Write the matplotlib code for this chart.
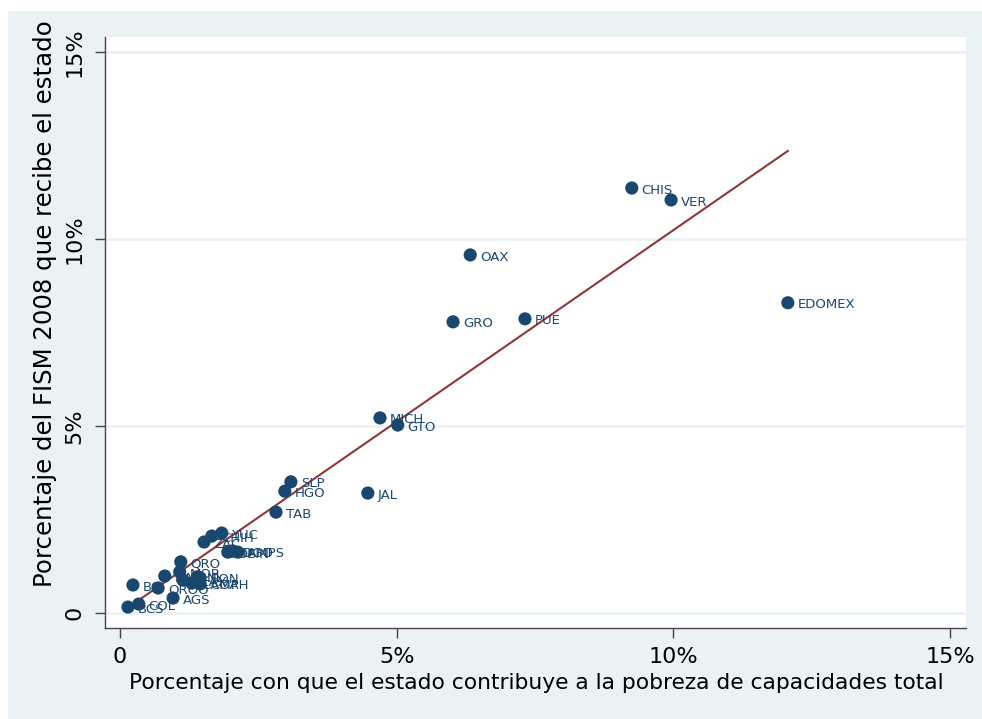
import matplotlib
matplotlib.use("Agg")
import matplotlib.pyplot as plt
from matplotlib.patches import Rectangle
import numpy as np

######################################
### DATA                           ###
######################################

# state abbreviations
estados = ["CHIS", "VER", "OAX", "EDOMEX", "GRO", "PUE", "MICH", "GTO",
           "JAL", "SLP", "HGO", "TAB", "ZAC", "CHIH", "YUC", "DF", "DGO",
           "SIN", "TAMPS", "QRO", "MOR", "SON", "NL", "COAH", "QROO", "BC",
           "COL", "BCS", "AGS", "NAY", "TLAX", "CAMP"]

# share of total capacity poverty (%)
pobreza = [9.25, 9.96, 6.33, 12.07, 6.02, 7.32, 4.70, 5.02,
           4.48, 3.09, 2.98, 2.82, 1.52, 1.66, 1.84, 1.95, 2.04,
           2.13, 2.00, 1.10, 1.08, 1.45, 1.40, 1.45, 0.69, 0.235,
           0.34, 0.145, 0.96, 0.81, 1.14, 1.30]

# share of FISM 2008 received (%)
fism = [11.37, 11.05, 9.58, 8.30, 7.79, 7.87, 5.22, 5.03,
        3.21, 3.51, 3.26, 2.70, 1.90, 2.06, 2.14, 1.63, 1.66,
        1.63, 1.65, 1.37, 1.10, 0.94, 0.97, 0.78, 0.67, 0.75,
        0.24, 0.16, 0.40, 0.99, 0.88, 0.80]

ticks = [0, 5, 10, 15]
tick_labels = ["0", "5%", "10%", "15%"]

######################################
### PLOT                           ###
######################################

navy = "#1a476f"
maroon = "#90353b"
bg = "#eaf2f3"

fig = plt.figure(figsize=(9.82, 7.19), dpi=100)
fig.patch.set_facecolor("white")
fig.patches.append(Rectangle((8 / 982, 0), 1, 1 - 11 / 719, transform=fig.transFigure,
                             facecolor=bg, edgecolor="none", zorder=-10))

ax = fig.add_axes([105 / 982, (719 - 628) / 719, (966 - 105) / 982, (628 - 37) / 719])
ax.set_facecolor("white")

x = np.array(pobreza)
y = np.array(fism)

# linear fit across the observed range
b, a = np.polyfit(x, y, 1)
xs = np.array([x.min(), x.max()])
ax.plot(xs, a + b * xs, color=maroon, lw=1.5, zorder=3)

ax.scatter(x, y, s=90, color=navy, edgecolors="none", zorder=4)
for lab, xi, yi in zip(estados, pobreza, fism):
    ax.annotate(lab, (xi, yi), xytext=(7, -1.5), textcoords="offset points",
                fontsize=9.5, color=navy, va="center", ha="left", zorder=5)

ax.set_xlim(-0.27, 15.29)
ax.set_ylim(-0.40, 15.41)

for t in ticks:
    ax.axhline(t, color=bg, lw=2, zorder=1)

ax.set_xticks(ticks)
ax.set_xticklabels(tick_labels, fontsize=16)
ax.set_yticks(ticks)
ax.set_yticklabels(tick_labels, fontsize=16, rotation=90, va="center")
ax.tick_params(axis="both", direction="out", length=7, width=1, color="#444444")
ax.tick_params(axis="x", pad=7)
ax.tick_params(axis="y", pad=8)

for s in ["top", "right"]:
    ax.spines[s].set_visible(False)
for s in ["left", "bottom"]:
    ax.spines[s].set_color("#444444")
    ax.spines[s].set_linewidth(1)

fig.text(536 / 982, 1 - 683 / 719, "Porcentaje con que el estado contribuye a la pobreza de capacidades total",
         ha="center", va="center", fontsize=15.7)
fig.text(45 / 982, 1 - 304 / 719, "Porcentaje del FISM 2008 que recibe el estado",
         ha="center", va="center", rotation=90, fontsize=17.6)

fig.savefig("out.png", dpi=100)
